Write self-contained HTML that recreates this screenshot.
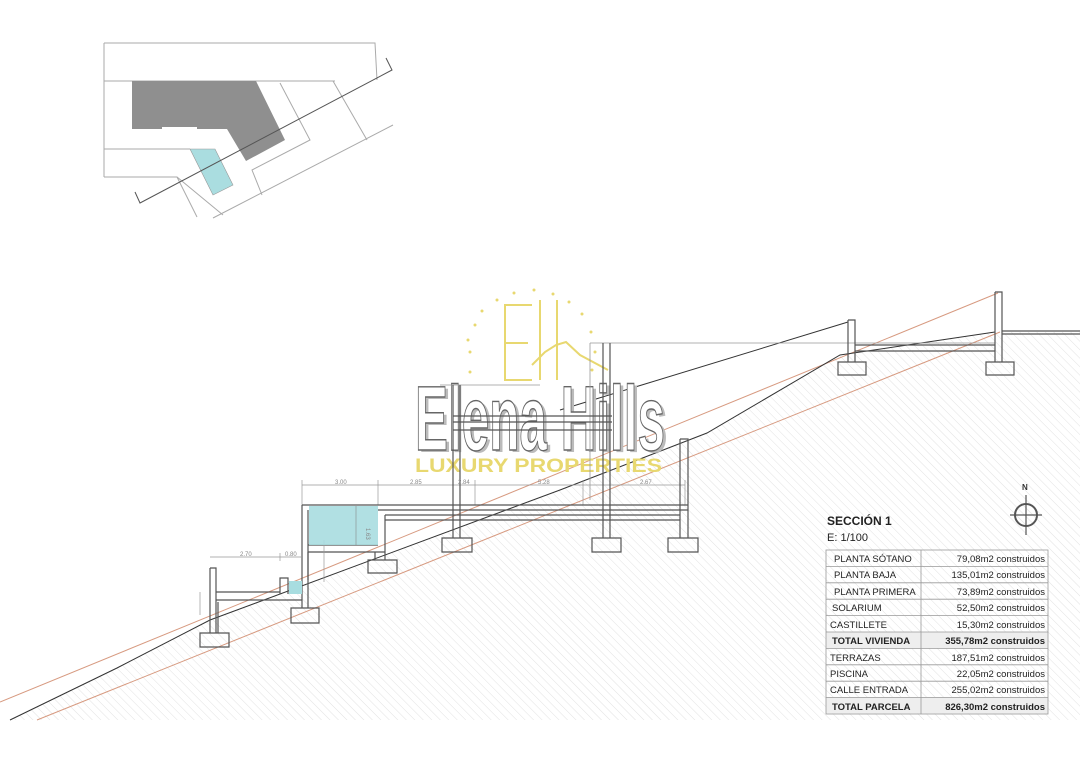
<!DOCTYPE html>
<html><head><meta charset="utf-8"><style>
html,body{margin:0;padding:0;background:#fff;}
svg{display:block;}
text{font-family:"Liberation Sans",sans-serif;}
</style></head><body>
<svg width="1080" height="763" viewBox="0 0 1080 763" xmlns="http://www.w3.org/2000/svg">
<defs>
<pattern id="h" width="6" height="6" patternUnits="userSpaceOnUse" patternTransform="rotate(-45)">
<line x1="0" y1="0" x2="0" y2="6" stroke="#e2e2e2" stroke-width="1"/>
</pattern>
</defs>
<rect width="1080" height="763" fill="#fff"/>

<!-- SITE PLAN -->
<g fill="none" stroke="#aaa" stroke-width="1">
<polyline points="104,43 375,43 377,80 Q380,110 393,123"/>
<line x1="104" y1="43" x2="104" y2="177"/>
<line x1="104" y1="81" x2="335" y2="81"/>
<line x1="104" y1="149" x2="190" y2="149"/>
<polyline points="104,177 177,177 223,215"/>
<line x1="213" y1="218" x2="393" y2="125"/>
<polyline points="280,83 310,140 252,170 262,195"/>
<polyline points="333,81 367,140"/>
<line x1="177" y1="177" x2="197" y2="217"/>
</g>
<polygon points="132,81 256,81 285,140 246,161 227,129 197,129 197,127 162,127 162,129 132,129" fill="#8f8f8f"/>
<polygon points="190,149 215,149 233,185 213,195" fill="#aadde0" stroke="#999" stroke-width="0.6"/>
<polyline points="135,192 140,203 392,70 386,58" fill="none" stroke="#555" stroke-width="1"/>

<!-- GROUND HATCH -->
<polygon points="10,720 117,668 210,620 560,490 707,433 840,355 995,332 1080,332 1080,720" fill="url(#h)"/>

<!-- TERRAIN LINES -->
<line x1="0" y1="702" x2="998" y2="293" stroke="#d79a80" stroke-width="1"/>
<line x1="37" y1="720" x2="1000" y2="332" stroke="#d79a80" stroke-width="1"/>
<polyline points="10,720 117,668 210,620 560,490 707,433 840,355 995,332" fill="none" stroke="#333" stroke-width="1"/>
<line x1="560" y1="410" x2="848" y2="322" stroke="#333" stroke-width="1"/>

<!-- LOGO -->
<g fill="#e8d870">
<circle cx="470" cy="352" r="1.5"/><circle cx="468" cy="340" r="1.5"/><circle cx="470" cy="372" r="1.5"/>
<circle cx="475" cy="325" r="1.5"/><circle cx="482" cy="311" r="1.5"/><circle cx="497" cy="300" r="1.5"/>
<circle cx="514" cy="293" r="1.5"/><circle cx="534" cy="290" r="1.5"/><circle cx="553" cy="294" r="1.5"/>
<circle cx="569" cy="302" r="1.5"/><circle cx="582" cy="314" r="1.5"/><circle cx="591" cy="332" r="1.5"/>
<circle cx="595" cy="352" r="1.5"/><circle cx="592" cy="370" r="1.5"/>
</g>
<g fill="none" stroke="#e8d870" stroke-width="2">
<polyline points="532,305 505,305 505,380 532,380"/><line x1="505" y1="343" x2="528" y2="343"/>
<line x1="557" y1="300" x2="557" y2="380"/>
<polyline points="532,365 545,352 556,345 566,342 580,355 608,370"/>
</g>
<line x1="540" y1="300" x2="540" y2="380" stroke="#e8d870" stroke-width="2"/>
<text x="418" y="452" font-family="Liberation Serif,serif" font-weight="bold" font-size="92" fill="#bbb" textLength="250" lengthAdjust="spacingAndGlyphs">Elena Hills</text>
<text x="415" y="450" font-family="Liberation Serif,serif" font-weight="bold" font-size="92" fill="#fff" stroke="#666" stroke-width="1.4" textLength="250" lengthAdjust="spacingAndGlyphs">Elena Hills</text>
<text x="415" y="472" font-size="19" font-weight="bold" fill="#e8d870" textLength="247" lengthAdjust="spacingAndGlyphs">LUXURY PROPERTIES</text>

<!-- STRUCTURE -->
<g fill="none" stroke="#555" stroke-width="1.2">
<line x1="590" y1="343" x2="995" y2="343" stroke="#999" stroke-width="0.8"/>
<line x1="590" y1="343" x2="590" y2="500" stroke="#999" stroke-width="0.8"/>
<line x1="453" y1="416" x2="612" y2="416"/><line x1="453" y1="422" x2="612" y2="422"/><line x1="453" y1="430" x2="612" y2="430"/>
<line x1="440" y1="385" x2="540" y2="385" stroke="#999" stroke-width="0.8"/>
<line x1="302" y1="485" x2="685" y2="485" stroke="#999" stroke-width="0.7"/>
<g stroke="#999" stroke-width="0.7"><line x1="302" y1="480" x2="302" y2="505"/><line x1="378" y1="480" x2="378" y2="505"/><line x1="475" y1="480" x2="475" y2="505"/><line x1="583" y1="480" x2="583" y2="505"/><line x1="685" y1="480" x2="685" y2="505"/></g>
<line x1="302" y1="505" x2="688" y2="505"/><line x1="378" y1="510" x2="688" y2="510"/>
<line x1="385" y1="515" x2="680" y2="515"/><line x1="385" y1="520" x2="680" y2="520"/>
<line x1="385" y1="515" x2="385" y2="552"/>
<line x1="308" y1="545" x2="378" y2="545"/><line x1="308" y1="552" x2="385" y2="552"/>
<polyline points="302,505 302,595"/><polyline points="308,510 308,580"/>
<polyline points="308,552 308,600"/>
<path d="M453,385 V538 M460,385 V538 M442,538 H472 V552 H442 Z"/>
<path d="M603,343 V538 M610,343 V538 M592,538 H621 V552 H592 Z"/>
<path d="M680,439 H688 V538 M680,439 V538 M668,538 H698 V552 H668 Z"/>
<path d="M375,552 V560 M385,552 V560 M368,560 H397 V573 H368 Z"/>
<path d="M848,320 H855 V362 M848,320 V362 M838,362 H866 V375 H838 Z"/>
<path d="M995,292 H1002 V362 M995,292 V362 M986,362 H1014 V375 H986 Z"/>
<line x1="855" y1="345" x2="995" y2="345"/><line x1="855" y1="351" x2="995" y2="351"/>
<line x1="1002" y1="331" x2="1080" y2="331"/><line x1="1002" y1="334" x2="1080" y2="334"/>
<path d="M302,595 V600 M216,592 H280 M216,600 H302"/>
<path d="M280,594 V578 H288 V594"/>
<path d="M218,602 V633"/>
<path d="M302,600 V608 M308,600 V608 M291,608 H319 V623 H291 Z"/>
<path d="M210,568 H216 V633 M210,568 V633 M200,633 H229 V647 H200 Z"/>
<line x1="210" y1="557" x2="302" y2="557" stroke="#999" stroke-width="0.7"/>
<line x1="280" y1="553" x2="280" y2="561" stroke="#999" stroke-width="0.7"/>
<line x1="200" y1="592" x2="200" y2="615" stroke="#999" stroke-width="0.7"/>
<line x1="324" y1="540" x2="324" y2="582" stroke="#999" stroke-width="0.7"/>
</g>
<rect x="309" y="506" width="69" height="39" fill="#a8dde0" opacity="0.9"/>
<rect x="289" y="581" width="13" height="13" fill="#a8dde0"/>
<line x1="356" y1="506" x2="356" y2="545" stroke="#888" stroke-width="0.6"/>
<g font-size="6" fill="#888">
<text x="335" y="484">3.00</text><text x="410" y="484">2.85</text><text x="458" y="484">2.84</text>
<text x="538" y="484">5.28</text><text x="640" y="484">2.67</text>
<text x="240" y="556">2.70</text><text x="285" y="556">0.80</text>
<text x="366" y="528" transform="rotate(90 366 528)">1.63</text>
</g>

<!-- NORTH -->
<text x="1022" y="490" font-size="8" font-weight="bold" fill="#333">N</text>
<circle cx="1026" cy="515" r="11" fill="none" stroke="#555" stroke-width="2"/>
<line x1="1010" y1="515" x2="1042" y2="515" stroke="#555" stroke-width="1.2"/>
<line x1="1026" y1="495" x2="1026" y2="535" stroke="#555" stroke-width="1.2"/>

<!-- TABLE -->
<text x="827" y="525" font-size="12" font-weight="bold" fill="#222">SECCIÓN 1</text>
<text x="827" y="541" font-size="11" fill="#222">E: 1/100</text>
<g font-size="9.5" fill="#222">
<rect x="826" y="632" width="222" height="16.4" fill="#eee"/>
<rect x="826" y="697" width="222" height="16.4" fill="#eee"/>
<rect x="826" y="550" width="222" height="164" fill="none" stroke="#999" stroke-width="0.8"/>
<line x1="921" y1="550" x2="921" y2="714" stroke="#999" stroke-width="0.8"/>
<g stroke="#999" stroke-width="0.8">
<line x1="826" y1="566.4" x2="1048" y2="566.4"/><line x1="826" y1="582.8" x2="1048" y2="582.8"/>
<line x1="826" y1="599.2" x2="1048" y2="599.2"/><line x1="826" y1="615.6" x2="1048" y2="615.6"/>
<line x1="826" y1="632" x2="1048" y2="632"/><line x1="826" y1="648.4" x2="1048" y2="648.4"/>
<line x1="826" y1="664.8" x2="1048" y2="664.8"/><line x1="826" y1="681.2" x2="1048" y2="681.2"/>
<line x1="826" y1="697.6" x2="1048" y2="697.6"/>
</g>
<text x="834" y="562">PLANTA SÓTANO</text><text x="834" y="578">PLANTA BAJA</text>
<text x="834" y="595">PLANTA PRIMERA</text><text x="832" y="611">SOLARIUM</text>
<text x="830" y="628">CASTILLETE</text><text x="832" y="644" font-weight="bold">TOTAL VIVIENDA</text>
<text x="830" y="661">TERRAZAS</text><text x="830" y="677">PISCINA</text>
<text x="830" y="693">CALLE ENTRADA</text><text x="832" y="710" font-weight="bold">TOTAL PARCELA</text>
<g text-anchor="end">
<text x="1045" y="562">79,08m2 construidos</text><text x="1045" y="578">135,01m2 construidos</text>
<text x="1045" y="595">73,89m2 construidos</text><text x="1045" y="611">52,50m2 construidos</text>
<text x="1045" y="628">15,30m2 construidos</text><text x="1045" y="644" font-weight="bold">355,78m2 construidos</text>
<text x="1045" y="661">187,51m2 construidos</text><text x="1045" y="677">22,05m2 construidos</text>
<text x="1045" y="693">255,02m2 construidos</text><text x="1045" y="710" font-weight="bold">826,30m2 construidos</text>
</g>
</g>
</svg>
</body></html>
